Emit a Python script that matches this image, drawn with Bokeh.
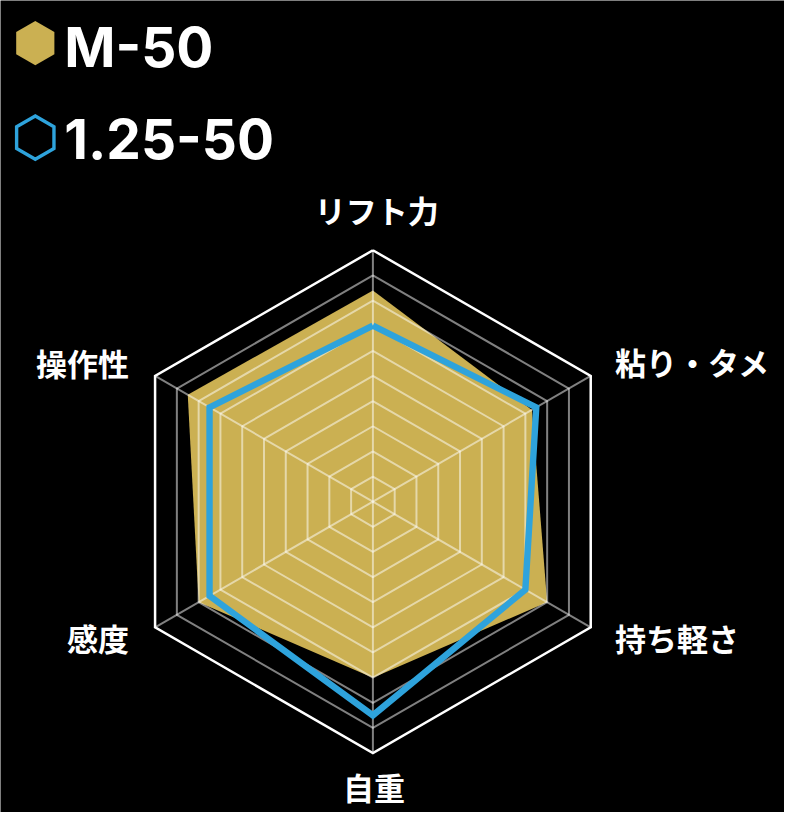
import math
from bokeh.plotting import figure
from bokeh.models import Range1d
from bokeh.embed import file_html
from bokeh.resources import INLINE
from bokeh.core.properties import value

# ---- data ----
categories = ["リフト力", "粘り・タメ", "持ち軽さ", "自重", "感度", "操作性"]
series_names = ["M-50", "1.25-50"]
m50_values = [8.4, 7.3, 8.0, 7.0, 8.0, 8.5]
r125_values = [7.0, 7.5, 7.0, 8.5, 7.5, 7.5]
ring_levels = [1, 2, 3, 4, 5, 6, 7, 8, 9, 10]
max_level = 10

GOLD = "#CBB052"
BLUE = "#2EA3DC"

# ---- layout helpers (reference pixels -> data units) ----
W, H = 784, 812
REF_W, REF_H = 800, 829
PX = 25.665
CX, CY = 380.0, 511.65


def dx(px):
    return (px - CX) / PX


def dy(py):
    return (CY - py) / PX


n = len(categories)
angles = [2 * math.pi * i / n for i in range(n)]


def poly(vals):
    xs = [v * math.sin(a) for v, a in zip(vals, angles)]
    ys = [v * math.cos(a) for v, a in zip(vals, angles)]
    return xs, ys


p = figure(width=W, height=H,
           x_range=Range1d(dx(0), dx(REF_W)), y_range=Range1d(dy(REF_H), dy(0)),
           x_axis_type=None, y_axis_type=None,
           output_backend="svg", toolbar_location=None, min_border=0,
           background_fill_color="black", border_fill_color="black",
           outline_line_color=None)
p.grid.visible = False

# gold filled area
gx, gy = poly(m50_values)
p.patch(gx, gy, fill_color=GOLD, line_color=None)

# grid rings (semi-transparent white)
inner = [lv for lv in ring_levels if lv < max_level]
rxs, rys = [], []
for lv in inner:
    x, y = poly([lv] * n)
    rxs.append(x + [x[0]])
    rys.append(y + [y[0]])
p.multi_line(rxs, rys, line_color="white", line_alpha=0.5, line_width=2)

# spokes
ox, oy = poly([max_level] * n)
p.segment(x0=[0] * n, y0=[0] * n, x1=ox, y1=oy,
          line_color="white", line_alpha=0.5, line_width=2)

# outer ring
p.line(ox + [ox[0]], oy + [oy[0]], line_color="white", line_width=2.5,
       line_join="miter")

# blue outline series
bx, by = poly(r125_values)
p.line(bx + [bx[0]], by + [by[0]], line_color=BLUE, line_width=6.4,
       line_join="miter")

# category labels
font = value("Noto Sans CJK JP")
lab_pos = [
    (384, 213, "center"),
    (627, 369, "left"),
    (627, 650, "left"),
    (381, 802, "center"),
    (131, 650, "right"),
    (131, 370, "right"),
]
for cat, (px_, py_, al) in zip(categories, lab_pos):
    p.text(x=[dx(px_)], y=[dy(py_)], text=[cat], text_font=font,
           text_font_style="bold", text_font_size="31px", text_color="white",
           text_align=al, text_baseline="middle")


# legend
def hexagon(cxp, cyp, rp):
    xs, ys = [], []
    for k in range(6):
        a = math.pi / 3 * k
        xs.append(dx(cxp + rp * math.sin(a)))
        ys.append(dy(cyp - rp * math.cos(a)))
    return xs, ys


hx, hy = hexagon(35.5, 43.5, 22.5)
p.patch(hx, hy, fill_color=GOLD, line_color=None)
hx2, hy2 = hexagon(35.5, 140, 22)
p.patch(hx2, hy2, fill_color=None, line_color=BLUE, line_width=3.4,
        line_join="miter")

p.text(x=[dx(65)], y=[dy(47)], text=[series_names[0]], text_font=value("Inter"),
       text_font_style="bold", text_font_size="55px", text_color="white",
       text_align="left", text_baseline="middle")
p.text(x=[dx(65)], y=[dy(141)], text=[series_names[1]], text_font=value("Inter"),
       text_font_style="bold", text_font_size="55px", text_color="white",
       text_align="left", text_baseline="middle")

open("out.html", "w").write(file_html(p, INLINE))
